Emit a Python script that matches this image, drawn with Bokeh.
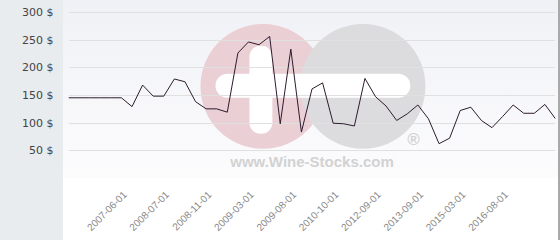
import math
from bokeh.plotting import figure
from bokeh.models import Range1d, FixedTicker, BoxAnnotation, Label
from bokeh.embed import file_html
from bokeh.resources import INLINE

# ---- data ----
idx = list(range(47))
prices = [146, 146, 146, 146, 146, 146, 130, 169, 149, 149,
          180, 175, 139, 126, 126, 120, 227, 247, 242, 257,
          99, 234, 84, 162, 173, 100, 99, 95, 181, 148,
          131, 105, 117, 133, 108, 63, 73, 123, 129, 105,
          92, 112, 133, 118, 118, 134, 108]
x_tick_idx = [6, 10, 14, 18, 22, 26, 30, 34, 38, 42]
x_tick_labels = ["2007-06-01", "2008-07-01", "2008-11-01", "2009-03-01", "2009-08-01",
                 "2010-10-01", "2012-09-01", "2013-09-01", "2015-03-01", "2016-08-01"]
y_ticks = [0, 50, 100, 150, 200, 250, 300]
y_tick_labels = ["", "50 $", "100 $", "150 $", "200 $", "250 $", "300 $"]

p = figure(width=560, height=240, x_range=Range1d(0, 46), y_range=Range1d(0, 322),
           output_backend="svg", toolbar_location=None,
           min_border_left=68, min_border_right=5, min_border_top=0, min_border_bottom=62)
p.background_fill_alpha = 0
p.border_fill_alpha = 0
p.outline_line_color = None
p.styles = {
    "background": "linear-gradient(to left, #a9a9a9 2px, transparent 2px), "
                  "linear-gradient(to right, #e8ecef 63px, transparent 63px), "
                  "linear-gradient(to bottom, #f0f1f6 0px, #fcfcfd 178px, #ffffff 178px)"
}

# watermark
wm_pink = "#eacfd5"
wm_gray = "#dcdcde"
p.add_layout(BoxAnnotation(left=12.47, right=24.27, bottom=54, top=279.5, fill_color=wm_pink,
                           fill_alpha=1, line_color=None, border_radius=62, level="image"))
p.add_layout(BoxAnnotation(left=21.91, right=33.71, bottom=54, top=279.5, fill_color=wm_gray,
                           fill_alpha=1, line_color=None, border_radius=62, level="image"))
p.add_layout(BoxAnnotation(left=13.88, right=32.29, bottom=146, top=189.5, fill_color="white",
                           fill_alpha=1, line_color=None, border_radius=12, level="image"))
p.add_layout(BoxAnnotation(left=17.09, right=19.26, bottom=81, top=240, fill_color="white",
                           fill_alpha=1, line_color=None, border_radius=11, level="image"))
p.add_layout(Label(x=23.0, y=31, text="www.Wine-Stocks.com", text_align="center",
                   text_baseline="middle", text_font="Liberation Sans", text_font_style="bold",
                   text_font_size="15px", text_color="#d2d2d2", level="image"))
p.add_layout(Label(x=32.6, y=70, text="®", text_align="center", text_baseline="middle",
                   text_font="Liberation Sans", text_font_style="bold",
                   text_font_size="17px", text_color="#d2d2d2", level="image"))

p.line(idx, prices, line_color="#2d1b2e", line_width=1)

p.xgrid.grid_line_color = None
p.ygrid.grid_line_color = "#e0e0e0"
p.ygrid.grid_line_width = 1

p.yaxis.ticker = FixedTicker(ticks=y_ticks)
p.yaxis.major_label_overrides = dict(zip(y_ticks, y_tick_labels))
p.yaxis.axis_line_color = None
p.yaxis.major_tick_line_color = None
p.yaxis.minor_tick_line_color = None
p.yaxis.major_label_standoff = 9
p.yaxis.major_label_text_font = "DejaVu Sans"
p.yaxis.major_label_text_font_size = "11px"
p.yaxis.major_label_text_color = "#444444"

# rotated labels are anchored slightly left of each category
label_shift = 0.7
x_label_pos = [round(i - label_shift, 2) for i in x_tick_idx]
p.xaxis.ticker = FixedTicker(ticks=x_label_pos)
p.xaxis.major_label_overrides = dict(zip(x_label_pos, x_tick_labels))
p.xaxis.axis_line_color = None
p.xaxis.major_tick_line_color = None
p.xaxis.minor_tick_line_color = None
p.xaxis.major_label_orientation = math.pi / 4
p.xaxis.major_label_standoff = 8
p.xaxis.major_label_text_font = "Liberation Sans"
p.xaxis.major_label_text_font_size = "10px"
p.xaxis.major_label_text_color = "#888888"

open("out.html", "w").write(file_html(p, INLINE))
